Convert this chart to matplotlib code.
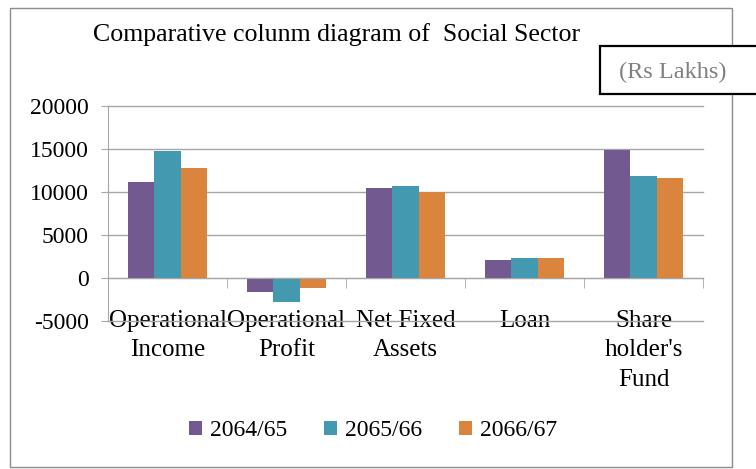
import matplotlib
matplotlib.use("Agg")
import matplotlib.pyplot as plt
from matplotlib.patches import Rectangle, Patch
import numpy as np

categories = ["Operational\nIncome", "Operational\nProfit", "Net Fixed\nAssets", "Loan", "Share\nholder's\nFund"]
series_names = ["2064/65", "2065/66", "2066/67"]
v_2064 = [11100, -1650, 10400, 2050, 14850]
v_2065 = [14800, -2800, 10650, 2300, 11850]
v_2066 = [12750, -1200, 10000, 2300, 11600]
colors = ["#725a91", "#4299b0", "#db843d"]
yticks = [-5000, 0, 5000, 10000, 15000, 20000]

plt.rcParams['font.family'] = ['Liberation Serif', 'DejaVu Serif']
FS = 18

W, H = 756, 469
fig = plt.figure(figsize=(W/100, H/100), dpi=100)

# outer frame
fig.patches.append(Rectangle((10/W, 1-467/H), (732-10)/W, (467-8)/H, transform=fig.transFigure,
                             fill=False, edgecolor="#8c8c8c", linewidth=1.0, zorder=0))

ax = fig.add_axes([108/W, 1-320.7/H, (703-108)/W, (320.7-106)/H])
x = np.arange(len(categories))
bw = 0.22
for i, (vals, c, nm) in enumerate(zip([v_2064, v_2065, v_2066], colors, series_names)):
    ax.bar(x + (i-1)*bw, vals, width=bw, color=c, label=nm, zorder=3)

ax.set_xlim(-0.5, len(categories)-0.5)
ax.set_ylim(-5000, 20000)
ax.set_yticks(yticks)
ax.set_yticklabels([str(v) for v in yticks], fontsize=17)
ax.yaxis.grid(True, color="#a6a6a6", linewidth=1.0, zorder=0)
for gl in ax.get_ygridlines():
    gl.set_clip_on(False)
ax.set_axisbelow(True)
for s in ["top", "right"]:
    ax.spines[s].set_visible(False)
ax.spines["left"].set_color("#a6a6a6")
ax.spines["bottom"].set_color("#a6a6a6")
ax.spines["bottom"].set_position(("data", 0))
ax.spines["bottom"].set_zorder(4)
ax.tick_params(axis="y", length=5, color="#a6a6a6", pad=9)

ax.set_xticks(x)
ax.set_xticklabels(categories, fontsize=FS, linespacing=1.45)
ax.set_xticks(np.arange(-0.5, len(categories)), minor=True)
ax.tick_params(axis="x", which="major", length=0, pad=23)
ax.tick_params(axis="x", which="minor", length=7, color="#a6a6a6", direction="out")

# title
fig.text(337/W, 1-35/H, "Comparative colunm diagram of  Social Sector", fontsize=18.6,
         ha="center", va="center")

# units box
fig.patches.append(Rectangle((600/W, 1-94/H), 200/W, 48/H, transform=fig.transFigure,
                             facecolor="white", edgecolor="black", linewidth=1.6, zorder=5))
fig.text(673/W, 1-72/H, "(Rs Lakhs)", fontsize=17.5, color="#808080", ha="center", va="center", zorder=6)

handles = [Patch(facecolor=c, edgecolor="none") for c in colors]
fig.legend(handles, series_names, loc="center", bbox_to_anchor=(373/W, 1-431/H), ncol=3,
           frameon=False, fontsize=17, handlelength=0.55, handleheight=0.55,
           handletextpad=0.35, columnspacing=1.55)

fig.savefig("out.png", dpi=100)
